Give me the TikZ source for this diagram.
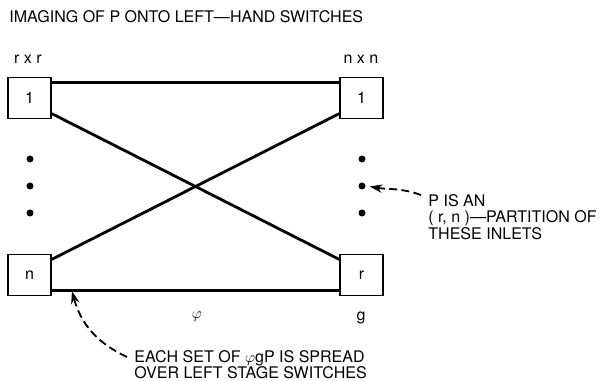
\documentclass[tikz,border=0pt]{standalone}
\usepackage{fontspec}
\setmainfont{TeX Gyre Heros}
\usetikzlibrary{arrows.meta, calc}

\begin{document}
\begin{tikzpicture}[
    % Global options: pixel-sized units, line width, font
    x=0.025cm, y=0.025cm,
    line width=2pt,
    font=\fontsize{11.4}{11.8}\selectfont,
    switchbox/.style={draw, line width=1.2pt, minimum width=1.075cm,
      minimum height=1.025cm, inner sep=0pt},
    inlet/.style={circle, fill, inner sep=0pt, minimum size=0.175cm},
    note/.style={align=left, anchor=north west, inner sep=0pt},
    pointer/.style={line width=1.3pt, dash pattern=on 5.7pt off 3pt,
      -{Stealth[length=9pt, width=6pt]}},
  ]
    \useasboundingbox (0,0) rectangle (601,381);

    % --- Title ---
    \node[anchor=base west, inner sep=0pt] (title) at (8,358)
      {IMAGING OF P ONTO LEFT—HAND SWITCHES};

    % --- Left and right stage switches ---
    \node (lsize) at (28,322) {r x r};
    \node (rsize) at (361,322) {n x n};
    \node[switchbox] (l1) at (29.5,283) {1};
    \node[switchbox] (ln) at (29.5,106) {n};
    \node[switchbox] (r1) at (361.5,283) {1};
    \node[switchbox] (rr) at (361.5,106) {r};

    % --- Dots between the switches ---
    \foreach \y/\i in {222/1, 195/2, 168/3} {
      \node[inlet] (ld\i) at (30,\y) {};
      \node[inlet] (rd\i) at (362,\y) {};
    }

    % --- Links ---
    \draw (l1.35) -- (r1.145);
    \draw (l1.-35) -- (rr.145);
    \draw (ln.35) -- (r1.-145);
    \draw (ln.-35) -- (rr.-145);
    \node (phi) at (197,64) {$\varphi$};
    \node (g) at (361,63) {g};

    % --- Notes with dashed pointers ---
    \node[note] (pnote) at (427,188)
      {P IS AN\\( r, n )—PARTITION OF\\THESE INLETS};
    \coordinate (ptail) at (421,186);
    \draw[pointer, shorten >=2pt] (ptail) to[out=160, in=-10] (rd2.east);

    \node[note] (enote) at (133,32)
      {EACH SET OF $\varphi$gP IS SPREAD\\OVER LEFT STAGE SWITCHES};
    \coordinate (etail) at (127,24);
    \coordinate (etip) at (72,90);
    \draw[pointer] (etail) to[out=155, in=-75] (etip);
  \end{tikzpicture}
\end{document}
